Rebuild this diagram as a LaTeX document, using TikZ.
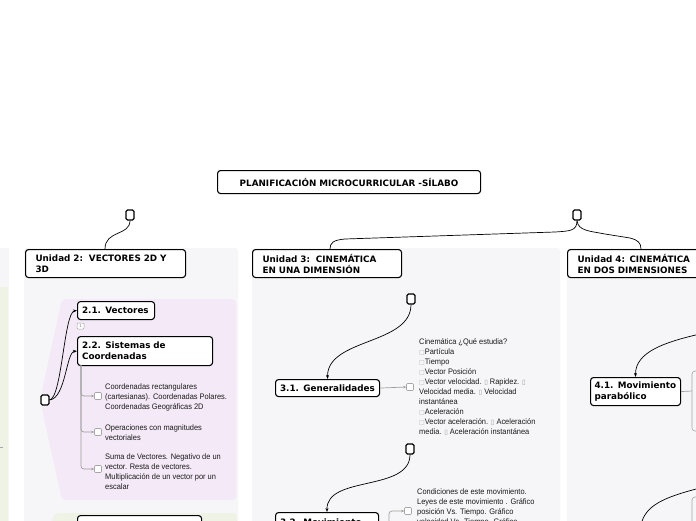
\documentclass[tikz,border=0pt]{standalone}
\usepackage{fontspec}
\setmainfont{Liberation Sans}
\newfontfamily\vfont[BoldFont={DejaVu Sans Bold}]{DejaVu Sans}
\newfontfamily\nfont[FakeStretch=0.93]{Liberation Sans}
\newfontfamily\symfnt{DejaVu Sans}
\usetikzlibrary{arrows.meta}
\definecolor{panelgray}{HTML}{F6F6F8}
\definecolor{pinkbg}{HTML}{F4E9F7}
\definecolor{greenbg}{HTML}{EEF3E6}
\definecolor{txtc}{HTML}{1A1A1A}
\newcommand\mybx{{\symfnt\fontsize{6}{10}\selectfont\textcolor{gray!60}{□}}}
\newcommand\myvb{{\symfnt\fontsize{6.5}{10}\selectfont\textcolor{gray!80}{▯}}}
\tikzset{
  topic/.style={draw=black, line width=1.1pt, rounded corners=3pt, fill=white,
    font=\vfont\bfseries\fontsize{8.8}{11}\selectfont, align=left, anchor=north west, inner ysep=0pt},
  sqbox/.style={draw=black, line width=1.1pt, rounded corners=1.5pt, fill=white,
    minimum width=8pt, minimum height=10pt, inner sep=0pt},
  chk/.style={draw=gray!70, line width=0.6pt, rounded corners=1pt, fill=white,
    minimum size=7pt, inner sep=0pt},
  txt/.style={font=\nfont\fontsize{8}{10}\selectfont, text=txtc, align=left, anchor=north west, inner sep=0pt},
  con/.style={draw=black, line width=0.7pt},
  arr/.style={-{Stealth[length=4pt,width=3pt]}},
  gcon/.style={draw=gray!75, line width=0.7pt, rounded corners=3pt},
  garr/.style={-{Stealth[length=3pt,width=2.5pt]}},
}
\begin{document}
\begin{tikzpicture}[x=1pt,y=-1pt]
\useasboundingbox (0,0) rectangle (696,520);
\clip (0,0) rectangle (696,520);
\fill[white] (0,0) rectangle (696,520);
% panels
\fill[panelgray] (-10,248) rectangle (9,530);
\fill[greenbg] (-10,287) rectangle (8,530);
\draw[gray!70, line width=0.7pt] (0,447) -- (3,447);
\fill[panelgray, rounded corners=3pt] (24,248) rectangle (238,530);
\fill[panelgray, rounded corners=3pt] (252,248) rectangle (560,530);
\fill[panelgray, rounded corners=3pt] (567,248) rectangle (720,530);
\fill[pinkbg, rounded corners=4pt] (62,299) -- (236,299) -- (236,500) -- (62,500) -- (40,400) -- cycle;
\fill[greenbg, rounded corners=4pt] (55,513) -- (237,513) -- (237,530) -- (48,530) -- cycle;

% root
\node[topic, align=center, minimum width=263pt, minimum height=23pt, inner xsep=0pt] (root) at (217,170) {PLANIFICACIÓN MICROCURRICULAR -SÍLABO};

% collapse squares
\node[sqbox] (s1) at (130,215) {};
\node[sqbox] (s2) at (577,215) {};
\node[sqbox] (s3) at (45,400) {};
\node[sqbox] (s4) at (411,299) {};
\node[sqbox] (s5) at (410,449) {};

% units
\node[topic, minimum height=28pt, text width=140pt, inner xsep=10pt] (u2) at (25,249) {Unidad 2:\ \ VECTORES 2D Y\\3D};
\node[topic, minimum height=28pt, text width=129pt, inner xsep=10pt] (u3) at (252,249) {Unidad 3:\ \ CINEMÁTICA\\EN UNA DIMENSIÓN};
\node[topic, minimum height=28pt, text width=140pt, inner xsep=10pt] (u4) at (567,249) {Unidad 4: CINEMÁTICA\\EN DOS DIMENSIONES};

% unit 2 children
\node[topic, minimum height=18pt, text width=68pt, inner xsep=4.5pt] (t21) at (77,301) {2.1. Vectores};
\node[draw=gray!70, line width=0.5pt, rounded corners=1pt, fill=white, minimum width=7pt, minimum height=6pt, inner sep=0pt, font=\fontsize{4.5}{5}\selectfont, text=gray] (badge) at (80.5,326) {1};
\node[topic, minimum height=29pt, text width=126pt, inner xsep=4.5pt] (t22) at (77,336) {2.2. Sistemas de\\Coordenadas};
\node[topic, minimum height=20pt, text width=114pt, inner xsep=5pt] (t23) at (77,515) {\mbox{}};

\draw[con, arr] (s3.east) .. controls (62,398) and (64,312) .. (t21.west);
\draw[con, arr] (s3.east) .. controls (66,398) and (66,352) .. (t22.west);

\node[chk] (c1) at (98,396) {};
\node[chk] (c2) at (98,432) {};
\node[chk] (c3) at (98,469) {};
\node[txt] (x1) at (105,383) {Coordenadas rectangulares\\(cartesianas). Coordenadas Polares.\\Coordenadas Geográficas 2D};
\node[txt] (x2) at (105,424) {Operaciones con magnitudes\\vectoriales};
\node[txt] (x3) at (105,453) {Suma de Vectores. Negativo de un\\vector. Resta de vectores.\\Multiplicación de un vector por un\\escalar};
\coordinate (b22) at (81,365);
\draw[gcon, garr] (b22) |- (c3.west);
\draw[gcon, garr] (b22) |- (c2.west);
\draw[gcon, garr] (b22) |- (c1.west);

% unit 3 children
\node[topic, minimum height=17pt, text width=95pt, inner xsep=4.5pt] (t31) at (275,379) {3.1. Generalidades};
\node[topic, minimum height=30pt, text width=94pt, inner xsep=4.5pt] (t32) at (275,512) {3.2. Movimiento\\\mbox{}};
\draw[con, arr] (s4.south) .. controls (411,345) and (327,338) .. (t31.north);
\draw[con, arr] (s5.south) .. controls (410,492) and (326,475) .. (t32.north);

\node[chk] (c4) at (410,387) {};
\draw[gcon, garr] (t31.east) -- (c4.west);
\node[txt] (x4) at (419,338) {Cinemática ¿Qué estudia?\\\mybx Partícula\\\mybx Tiempo\\\mybx Vector Posición\\\mybx Vector velocidad. \myvb{} Rapidez. \myvb\\Velocidad media. \myvb{} Velocidad\\instantánea\\\mybx Aceleración\\\mybx Vector aceleración. \myvb{} Aceleración\\media. \myvb{} Aceleración instantánea};

\node[chk] (c5) at (408,511) {};
\coordinate (b32) at (389,525);
\draw[gcon, garr] (b32) |- (c5.west);
\node[txt] (x5) at (417,488) {Condiciones de este movimiento.\\Leyes de este movimiento . Gráfico\\posición Vs. Tiempo. Gráfico\\velocidad Vs. Tiempo. Gráfico};

% unit 4 children
\node[topic, minimum height=28pt, text width=82pt, inner xsep=4pt] (t41) at (590,377) {4.1. Movimiento\\parabólico};
\coordinate (e1) at (700,334);
\draw[con, arr] (e1) .. controls (665,342) and (635,352) .. (t41.north);
\draw[gray!70, line width=0.6pt, rounded corners=3pt] (692,371) rectangle (730,431);
\draw[gcon] (t41.east) -- (692,391);
\coordinate (e2) at (700,488);
\coordinate (e3) at (641,525);
\draw[con] (e2) .. controls (665,497) and (645,505) .. (e3);
\draw[gray!70, line width=0.6pt, rounded corners=3pt] (692,497) rectangle (730,540);

% top connectors
\coordinate (u2top) at (105,249);
\coordinate (u3top) at (330,249);
\coordinate (u4top) at (641,249);
\draw[con] (s1.south) .. controls (130,236) and (105,230) .. (u2top);
\draw[con] (s2.south) .. controls (577,231) and (570,231) .. (555,232) -- (345,239) .. controls (333,240) and (330,243) .. (u3top);
\draw[con] (s2.south) .. controls (578,231) and (590,231) .. (605,234) -- (630,238) .. controls (638,240) and (641,243) .. (u4top);
\end{tikzpicture}
\end{document}
